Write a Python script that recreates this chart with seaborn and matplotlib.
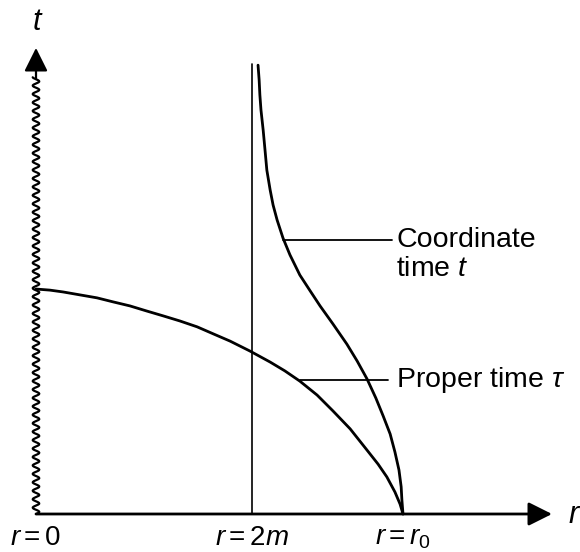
import numpy as np
import pandas as pd
import seaborn as sns
import matplotlib.pyplot as plt

# Valeurs (unités : r0 = 1)
r_2m = 0.589
r_0 = 1.0

# Temps propre tau (courbe en cycloïde)
proper_r = [0.000, 0.038, 0.074, 0.120, 0.166, 0.210, 0.256, 0.302, 0.346,
            0.392, 0.439, 0.485, 0.529, 0.583, 0.638, 0.678, 0.719, 0.766,
            0.809, 0.856, 0.902, 0.932, 0.956, 0.978, 0.992, 1.000]
proper_t = [0.613, 0.610, 0.605, 0.597, 0.589, 0.578, 0.567, 0.553, 0.540,
            0.526, 0.510, 0.490, 0.471, 0.444, 0.414, 0.390, 0.362, 0.324,
            0.281, 0.232, 0.174, 0.136, 0.101, 0.060, 0.027, 0.000]

# Temps coordonnée t (diverge en r = 2m)
coord_r = [0.605, 0.608, 0.610, 0.613, 0.619, 0.624, 0.629, 0.638, 0.646,
           0.657, 0.673, 0.692, 0.719, 0.747, 0.774, 0.809, 0.847, 0.875,
           0.902, 0.926, 0.946, 0.965, 0.978, 0.989, 0.995, 0.997, 1.000]
coord_t = [1.223, 1.183, 1.142, 1.101, 1.046, 0.992, 0.937, 0.883, 0.842,
           0.801, 0.752, 0.706, 0.651, 0.608, 0.567, 0.518, 0.463, 0.417,
           0.368, 0.316, 0.267, 0.218, 0.169, 0.120, 0.074, 0.038, 0.000]

tick_labels = [r"$r=0$", r"$r=2m$", r"$r=r_0$"]
tick_pos = [0.0, r_2m, r_0]

sns.set_theme(style="white")
plt.rcParams["font.family"] = ["Liberation Sans", "DejaVu Sans"]
plt.rcParams["mathtext.fontset"] = "custom"
plt.rcParams["mathtext.rm"] = "Liberation Sans"
plt.rcParams["mathtext.it"] = "Liberation Sans:italic"
plt.rcParams["text.color"] = "black"

fig = plt.figure(figsize=(5.8, 5.52), dpi=100)
ax = fig.add_axes([0, 0, 1, 1])
ax.set_xlim(-36 / 367, 544 / 367)
ax.set_ylim(-38 / 367, 514 / 367)
ax.axis("off")

df_p = pd.DataFrame({"r": proper_r, "t": proper_t})
df_c = pd.DataFrame({"r": coord_r, "t": coord_t})
sns.lineplot(data=df_p, x="r", y="t", sort=False, estimator=None,
             color="black", lw=2.0, ax=ax)
sns.lineplot(data=df_c, x="r", y="t", sort=False, estimator=None,
             color="black", lw=2.0, ax=ax)

# droite r = 2m
ax.plot([r_2m, r_2m], [0, 1.226], color="black", lw=1.2)

arrow = dict(arrowstyle="-|>,head_length=0.72,head_width=0.36",
             mutation_scale=20, color="black", shrinkA=0, shrinkB=0)
# axe r avec flèche
ax.annotate("", xy=(1.406, 0), xytext=(0, 0),
            arrowprops=dict(arrow, lw=2.0))
# axe t : ligne ondulée (singularité) puis flèche
yy = np.linspace(0, 1.19, 600)
ax.plot(0.009 * np.sin(2 * np.pi * yy / 0.023), yy, color="black", lw=1.6)
ax.annotate("", xy=(0, 1.270), xytext=(0, 1.185),
            arrowprops=dict(arrow, lw=1.6))

ax.text(0.005, 1.34, r"$t$", fontsize=22, ha="center", va="center")
ax.text(1.467, -0.003, r"$r$", fontsize=22, ha="center", va="center")
for x, lab in zip(tick_pos, tick_labels):
    ax.text(x, -0.065, lab, fontsize=20, ha="center", va="center")

# légendes avec traits de rappel
ax.plot([0.673, 0.970], [0.747, 0.747], color="black", lw=1.3)
ax.text(0.982, 0.747, "Coordinate", fontsize=20.5, ha="left", va="center")
ax.text(0.982, 0.668, r"time $t$", fontsize=20.5, ha="left", va="center")
ax.plot([0.719, 0.959], [0.365, 0.365], color="black", lw=1.3)
ax.text(0.982, 0.365, r"Proper time $\tau$", fontsize=20.5,
        ha="left", va="center")

fig.savefig("out.png", dpi=100)
